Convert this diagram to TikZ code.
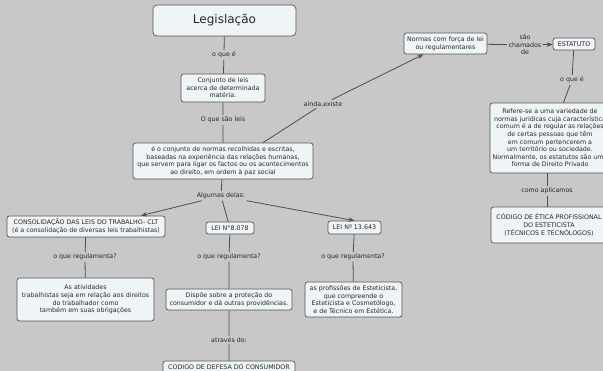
\documentclass[tikz,border=0pt]{standalone}
\usepackage{fontspec}
\setmainfont{DejaVu Sans}
\usetikzlibrary{arrows.meta}
\definecolor{fundo}{HTML}{C8C8C8}
\definecolor{caixa}{HTML}{EFF4F6}
\definecolor{borda}{HTML}{555555}
\definecolor{linha}{HTML}{4E4E4E}

\begin{document}
\begin{tikzpicture}[x=1pt, y=-1pt,
    conceito/.style={draw=borda, fill=caixa, rounded corners=2.5pt, line width=0.7pt, align=center,
        font=\fontsize{6.3}{7.6}\selectfont, text=black!85, inner sep=1pt},
    ligacao/.style={align=center, font=\fontsize{6.3}{7.6}\selectfont, text=black!85, inner sep=1.5pt},
    liga/.style={draw=linha, line width=0.8pt},
    seta/.style={liga, -{Stealth[length=6pt, width=4.5pt]}}]
        \useasboundingbox (0,0) rectangle (603,371);
        \clip (0,0) rectangle (603,371);
        \fill[fundo] (0,0) rectangle (603,371);

        % conceitos
        \node[conceito, font=\fontsize{12}{14}\selectfont, rounded corners=4pt, minimum width=143pt, minimum height=31pt] (legis) at (224.5,20.5) {Legislação};
        \node[conceito, minimum width=84pt, minimum height=28pt] (conjunto) at (223,88) {Conjunto de leis\\acerca de determinada\\matéria.};
        \node[conceito, minimum width=180pt, minimum height=36pt] (leis) at (223,161) {é o conjunto de normas recolhidas e escritas,\\baseadas na experiência das relações humanas,\\que servem para ligar os factos ou os acontecimentos\\ao direito, em ordem à paz social};
        \node[conceito, minimum width=83pt, minimum height=21pt] (normas) at (445.5,43.5) {Normas com força de lei\\ou regulamentares};
        \node[conceito, minimum width=42pt, minimum height=12pt] (estatuto) at (574,44) {ESTATUTO};
        \node[conceito, minimum width=120pt, minimum height=70pt] (refere) at (550,138) {Refere-se a uma variedade de\\normas jurídicas cuja característica\\comum é a de regular as relações\\de certas pessoas que têm\\em comum pertencerem a\\um território ou sociedade.\\Normalmente, os estatutos são uma\\forma de Direito Privado};
        \node[conceito, minimum width=116pt, minimum height=36pt] (etica) at (549,225) {CÓDIGO DE ÉTICA PROFISSIONAL\\DO ESTETICISTA\\(TÉCNICOS E TECNÓLOGOS)};
        \node[conceito, minimum width=158pt, minimum height=21pt] (clt) at (86,226.5) {CONSOLIDAÇÃO DAS LEIS DO TRABALHO- CLT\\(é a consolidação de diversas leis trabalhistas)};
        \node[conceito, minimum width=48pt, minimum height=12pt] (lei8078) at (230,228) {LEI N°8.078};
        \node[conceito, minimum width=53pt, minimum height=13pt] (lei13643) at (354.5,227.5) {LEI Nº 13.643};
        \node[conceito, minimum width=137pt, minimum height=43pt] (atividades) at (85.5,299.5) {As atividades\\trabalhistas seja em relação aos direitos\\do trabalhador como\\também em suas obrigações};
        \node[conceito, minimum width=126pt, minimum height=21pt] (dispoe) at (229,299.5) {Dispõe sobre a proteção do\\consumidor e dá outras providências.};
        \node[conceito, minimum width=97pt, minimum height=35pt] (profissoes) at (353.5,299.5) {as profissões de Esteticista,\\que compreende o\\Esteticista e Cosmetólogo,\\e de Técnico em Estética.};
        \node[conceito, minimum width=132pt, minimum height=12pt] (cdc) at (229,367) {CODIGO DE DEFESA DO CONSUMIDOR};

        % frases de ligacao
        \node[ligacao] (l1) at (224,55) {o que é};
        \node[ligacao] (l2) at (223,120) {O que são leis};
        \node[ligacao] (l3) at (323,104) {ainda,existe};
        \node[ligacao] (l4) at (525,45) {são\\chamados\\de};
        \node[ligacao] (l5) at (572,80) {o que é};
        \node[ligacao] (l6) at (547,191) {como aplicamos};
        \node[ligacao] (l7) at (221,196) {Algumas delas:};
        \node[ligacao] (l8) at (85,257) {o que regulamenta?};
        \node[ligacao] (l9) at (229,257) {o que regulamenta?};
        \node[ligacao] (l10) at (353,257) {o que regulamenta?};
        \node[ligacao] (l11) at (229,340) {através do:};

        % ligacoes
        \draw[liga] (legis) -- (l1) -- (conjunto) -- (l2) -- (leis);
        \draw[liga] ([xshift=40pt]leis.north) -- (l3);
        \draw[seta] (l3) -- (normas);
        \draw[liga] (normas) -- (l4);
        \draw[seta] (l4) -- (estatuto);
        \draw[liga] (estatuto) -- (l5) -- (refere);
        \draw[liga] (refere.south -| l6) -- (l6) -- (etica.north -| l6);
        \draw[liga] (leis) -- (l7);
        \draw[seta] (l7) -- ([xshift=55pt]clt.north);
        \draw[liga] (l7) -- (lei8078);
        \draw[seta] (l7) -- (lei13643.north);
        \draw[liga] (clt) -- (l8) -- (atividades);
        \draw[liga] (lei8078) -- (l9) -- (dispoe) -- (l11) -- (cdc);
        \draw[liga] (lei13643) -- (l10) -- (profissoes);
    \end{tikzpicture}
\end{document}
